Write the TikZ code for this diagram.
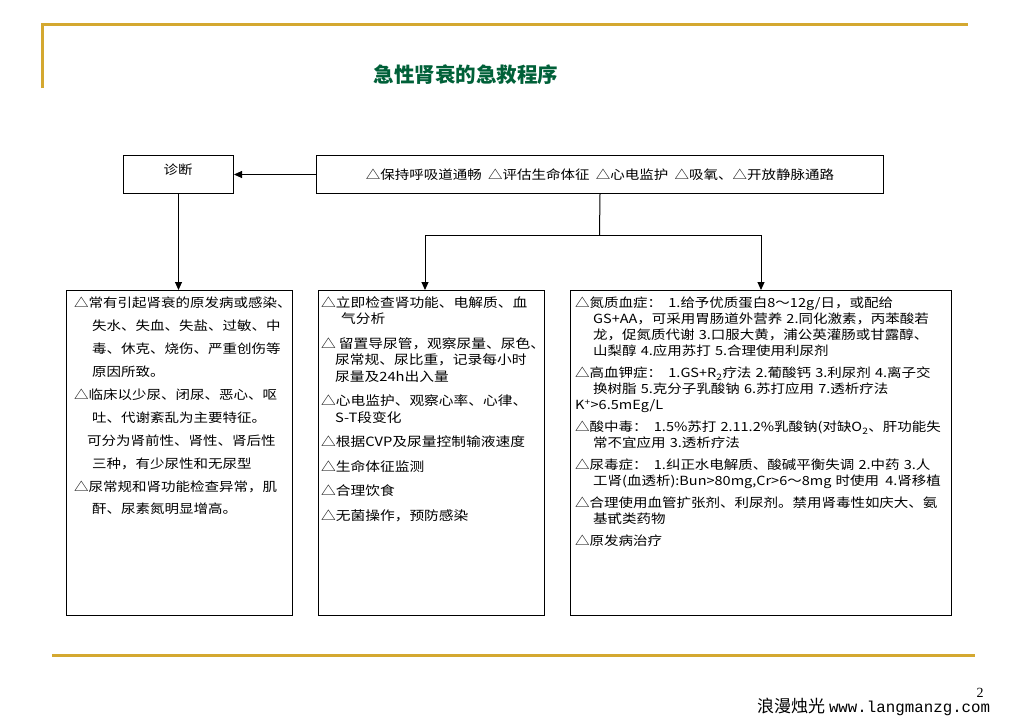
\documentclass[tikz,border=0pt]{standalone}
\usepackage{fontspec}
\setmainfont{Noto Sans CJK SC}
\newfontfamily\boxfont[FakeStretch=1.15]{Noto Sans CJK SC}
\newfontfamily\footmono{Liberation Mono}
\newfontfamily\numfont{Liberation Serif}
\usepackage{tikz}
\usetikzlibrary{arrows.meta}
\usepackage{xcolor}
\definecolor{goldline}{RGB}{212,168,48}
\definecolor{titlegreen}{RGB}{0,96,56}
\setlength{\parindent}{0pt}

\begin{document}
\begin{tikzpicture}[x=1pt, y=-1pt,
        box/.style={draw, line width=1pt, anchor=north west, inner sep=0pt},
        txt/.style={anchor=north west, inner sep=0pt, align=left, text width=#1},
        arr/.style={line width=1pt, -{Triangle[length=8pt,width=7pt]}},
        rule/.style={goldline, line width=3pt}
      ]
      \useasboundingbox (0,0) rectangle (1028,728);
      % slide frame
      \draw[rule] (42,88) -- (42,24) -- (968,24);
      \draw[rule] (52,655) -- (975,655);
      \node[font=\bfseries\fontsize{20.5}{21}\selectfont, text=titlegreen] (title) at (466,75) {急性肾衰的急救程序};
      % boxes
      \node[box, minimum width=110pt, minimum height=38pt] (diag) at (123,155) {};
      \node[font=\boxfont\fontsize{12.6}{14}\selectfont] (diagtxt) at (178,170) {诊断};
      \node[box, minimum width=567pt, minimum height=38pt, font=\boxfont\fontsize{12.6}{14}\selectfont] (first) at (316,155)
        {△保持呼吸道通畅\enspace△评估生命体征\enspace△心电监护\enspace△吸氧、△开放静脉通路};
      \node[box, minimum width=226pt, minimum height=325pt] (leftbox) at (66,290) {};
      \node[box, minimum width=226pt, minimum height=325pt] (midbox) at (318,290) {};
      \node[box, minimum width=381pt, minimum height=325pt] (rightbox) at (570,290) {};
      % box texts
      \node[txt=215pt, font=\boxfont\fontsize{12.6}{22.9}\selectfont] (lefttxt) at (74,297) {
        △常有引起肾衰的原发病或感染、\\
        \hspace*{18pt}失水、失血、失盐、过敏、中\\
        \hspace*{18pt}毒、休克、烧伤、严重创伤等\\
        \hspace*{18pt}原因所致。\\
        △临床以少尿、闭尿、恶心、呕\\
        \hspace*{18pt}吐、代谢紊乱为主要特征。\\
        \hspace*{13pt}可分为肾前性、肾性、肾后性\\
        \hspace*{18pt}三种，有少尿性和无尿型\\
        △尿常规和肾功能检查异常，肌\\
        \hspace*{18pt}酐、尿素氮明显增高。};
      \node[txt=240pt, font=\boxfont\fontsize{12.8}{16.5}\selectfont] (midtxt) at (321,296) {
        △立即检查肾功能、电解质、血\\
        \hspace*{20pt}气分析\\[8pt]
        △\kern3pt 留置导尿管，观察尿量、尿色、\\
        \hspace*{14pt}尿常规、尿比重，记录每小时\\
        \hspace*{14pt}尿量及24h出入量\\[8pt]
        △心电监护、观察心率、心律、\\
        \hspace*{14pt}S-T段变化\\[8pt]
        △根据CVP及尿量控制输液速度\\[8pt]
        △生命体征监测\\[8pt]
        △合理饮食\\[8pt]
        △无菌操作，预防感染};
      \node[txt=400pt, font=\boxfont\fontsize{12.6}{16}\selectfont] (righttxt) at (575,297) {
        △氮质血症：\enspace 1.给予优质蛋白8～12g/日，或配给\\
        \hspace*{18pt}GS+AA，可采用胃肠道外营养 2.同化激素，丙苯酸若\\
        \hspace*{18pt}龙，促氮质代谢 3.口服大黄，浦公英灌肠或甘露醇、\\
        \hspace*{18pt}山梨醇 4.应用苏打 5.合理使用利尿剂\\[6pt]
        △高血钾症：\enspace 1.GS+R\textsubscript{2}疗法 2.葡酸钙 3.利尿剂 4.离子交\\
        \hspace*{18pt}换树脂 5.克分子乳酸钠 6.苏打应用 7.透析疗法\\
        K\textsuperscript{+}>6.5mEg/L\\[6pt]
        △酸中毒：\enspace 1.5\%苏打 2.11.2\%乳酸钠(对缺O\textsubscript{2}、肝功能失\\
        \hspace*{18pt}常不宜应用 3.透析疗法\\[6pt]
        △尿毒症：\enspace 1.纠正水电解质、酸碱平衡失调 2.中药 3.人\\
        \hspace*{18pt}工肾(血透析):Bun>80mg,Cr>6～8mg 时使用\enspace 4.肾移植\\[6pt]
        △合理使用血管扩张剂、利尿剂。禁用肾毒性如庆大、氨\\
        \hspace*{18pt}基甙类药物\\[6pt]
        △原发病治疗};
      % connectors
      \coordinate (split) at (599.5,235);
      \coordinate (midtop) at (425,290);
      \draw[arr] (first.west) -- (diag.east);
      \draw[arr] (diag.south) -- (diag.south |- leftbox.north);
      \draw[line width=1pt] (first.south) -- (split);
      \draw[arr] (split) -| (midtop);
      \draw[arr] (split) -| (rightbox.north);
      % footer
      \node[anchor=base west, inner sep=0pt, font=\fontsize{17}{17}\selectfont] (foot) at (757,712)
        {浪漫烛光 {\footmono\fontsize{15.8}{15.8}\selectfont www.langmanzg.com}};
      \node[font=\numfont\fontsize{14}{14}\selectfont] (pageno) at (980,693) {2};
    \end{tikzpicture}
\end{document}
